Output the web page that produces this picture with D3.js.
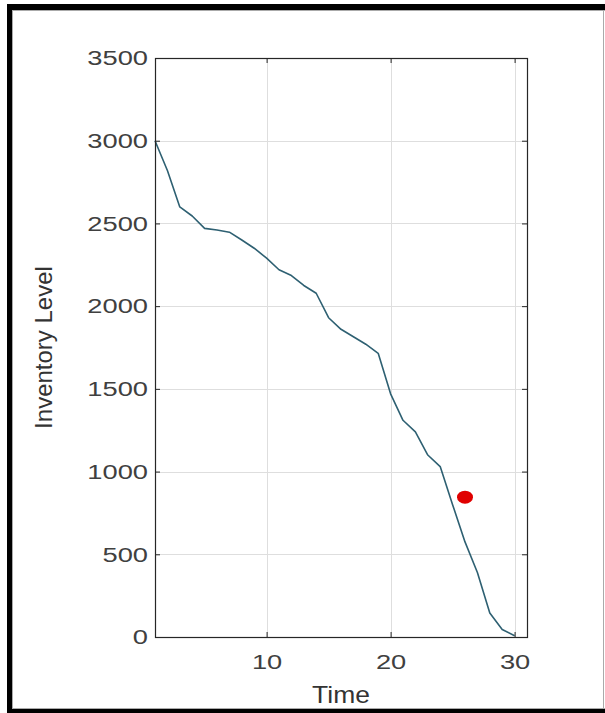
<!DOCTYPE html>
<html>
<head>
<meta charset="utf-8">
<script src="https://cdn.jsdelivr.net/npm/d3@7"></script>
<style>
  html, body { margin: 0; padding: 0; background: #fff; }
  svg { display: block; }
  text { font-family: "Liberation Sans", Arial, Helvetica, sans-serif; }
</style>
</head>
<body>
<svg id="chart" width="605" height="713"></svg>
<script>
// ---- data ----
const times = [1, 2, 3, 4, 5, 6, 7, 8, 9, 10, 11, 12, 13, 14, 15, 16, 17, 18, 19, 20, 21, 22, 23, 24, 25, 26, 27, 28, 29, 30];
const inventory = [3000, 2820, 2600, 2545, 2470, 2460, 2447, 2400, 2350, 2290, 2220, 2185, 2125, 2078, 1930, 1860, 1815, 1770, 1715, 1470, 1310, 1240, 1100, 1030, 800, 575, 390, 145, 45, 8];
const markerPoint = [{ t: 26, v: 845 }];
const xTicks = [10, 20, 30];
const yTicks = [0, 500, 1000, 1500, 2000, 2500, 3000, 3500];
const xDomain = [1, 31];
const yDomain = [0, 3500];
const xLabel = "Time";
const yLabel = "Inventory Level";

// ---- layout ----
const W = 605, H = 713;
const plot = { left: 155, top: 58, right: 527, bottom: 637 };

const svg = d3.select("#chart");
svg.append("rect").attr("width", W).attr("height", H).attr("fill", "#fff");

// outer frame (scanned border)
svg.append("rect").attr("x", 7).attr("y", 4).attr("width", W - 7).attr("height", 6).attr("fill", "#000");
svg.append("rect").attr("x", 7).attr("y", 4).attr("width", 5).attr("height", H - 4).attr("fill", "#000");
svg.append("rect").attr("x", 7).attr("y", 709).attr("width", W - 7).attr("height", 4).attr("fill", "#000");
svg.append("line").attr("x1", 12.5).attr("x2", 12.5).attr("y1", 10).attr("y2", 709).attr("stroke", "#aaa");
svg.append("line").attr("x1", 12).attr("x2", W).attr("y1", 10.5).attr("y2", 10.5).attr("stroke", "#aaa");
svg.append("line").attr("x1", 12).attr("x2", W).attr("y1", 708.5).attr("y2", 708.5).attr("stroke", "#aaa");
svg.append("line").attr("x1", 603.5).attr("x2", 603.5).attr("y1", 10).attr("y2", 709).attr("stroke", "#aaa");

const x = d3.scaleLinear().domain(xDomain).range([plot.left, plot.right]);
const y = d3.scaleLinear().domain(yDomain).range([plot.bottom, plot.top]);

const g = svg.append("g");

// grid
g.append("g").selectAll("line").data(xTicks).join("line")
  .attr("x1", d => Math.round(x(d)) + 0.5).attr("x2", d => Math.round(x(d)) + 0.5)
  .attr("y1", plot.top).attr("y2", plot.bottom)
  .attr("stroke", "#dedede").attr("stroke-width", 1);
g.append("g").selectAll("line").data(yTicks).join("line")
  .attr("y1", d => Math.round(y(d)) + 0.5).attr("y2", d => Math.round(y(d)) + 0.5)
  .attr("x1", plot.left).attr("x2", plot.right)
  .attr("stroke", "#dedede").attr("stroke-width", 1);

// line
const line = d3.line().x((d, i) => x(times[i])).y(d => y(d));
g.append("path").datum(inventory)
  .attr("d", line)
  .attr("fill", "none")
  .attr("stroke", "#2e6072")
  .attr("stroke-width", 1.6)
  .attr("stroke-linejoin", "round");

// marker
g.selectAll("ellipse.mk").data(markerPoint).join("ellipse")
  .attr("class", "mk")
  .attr("cx", d => x(d.t)).attr("cy", d => y(d.v))
  .attr("rx", 8).attr("ry", 6.5)
  .attr("fill", "#e00000");

// axes (box with inward ticks)
const axColor = "#262626";
const tickLen = 5;
const fmt = d3.format("d");
function styleAxis(sel) {
  sel.select(".domain").remove();
  sel.selectAll(".tick line").attr("stroke", axColor);
  sel.selectAll(".tick text").attr("fill", "#404040").attr("font-size", 21);
}
const xAxisB = d3.axisBottom(x).tickValues(xTicks).tickFormat(fmt).tickSizeInner(-tickLen).tickSizeOuter(0).tickPadding(17);
const gxb = g.append("g").attr("transform", `translate(0,${plot.bottom})`).call(xAxisB);
styleAxis(gxb);
gxb.selectAll(".tick text").attr("transform", "scale(1.3,1)");

const xAxisT = d3.axisTop(x).tickValues(xTicks).tickSizeInner(-tickLen).tickSizeOuter(0).tickFormat("");
const gxt = g.append("g").attr("transform", `translate(0,${plot.top})`).call(xAxisT);
styleAxis(gxt);

const yAxisL = d3.axisLeft(y).tickValues(yTicks).tickFormat(fmt).tickSizeInner(-tickLen).tickSizeOuter(0).tickPadding(7);
const gyl = g.append("g").attr("transform", `translate(${plot.left},0)`).call(yAxisL);
styleAxis(gyl);

const yAxisR = d3.axisRight(y).tickValues(yTicks).tickSizeInner(-tickLen).tickSizeOuter(0).tickFormat("");
const gyr = g.append("g").attr("transform", `translate(${plot.right},0)`).call(yAxisR);
styleAxis(gyr);

// stretch tick labels horizontally (wide look of the reference)
gyl.selectAll(".tick text").each(function() {
  const t = d3.select(this);
  const xx = +t.attr("x");
  t.attr("x", xx / 1.3).attr("transform", "scale(1.3,1)");
});

// axis box lines
g.append("rect")
  .attr("x", plot.left + 0.5).attr("y", plot.top + 0.5)
  .attr("width", plot.right - plot.left).attr("height", plot.bottom - plot.top)
  .attr("fill", "none").attr("stroke", axColor).attr("stroke-width", 1.2);

// axis titles
svg.append("text")
  .attr("x", (plot.left + plot.right) / 2).attr("y", 703)
  .attr("text-anchor", "middle")
  .attr("font-size", 23).attr("fill", "#333")
  .attr("transform", `translate(${(plot.left + plot.right) / 2},0) scale(1.15,1) translate(${-(plot.left + plot.right) / 2},0)`)
  .text(xLabel);

svg.append("text")
  .attr("transform", `translate(52,${(plot.top + plot.bottom) / 2}) rotate(-90)`)
  .attr("text-anchor", "middle")
  .attr("font-size", 24).attr("fill", "#333")
  .text(yLabel);
</script>
</body>
</html>
